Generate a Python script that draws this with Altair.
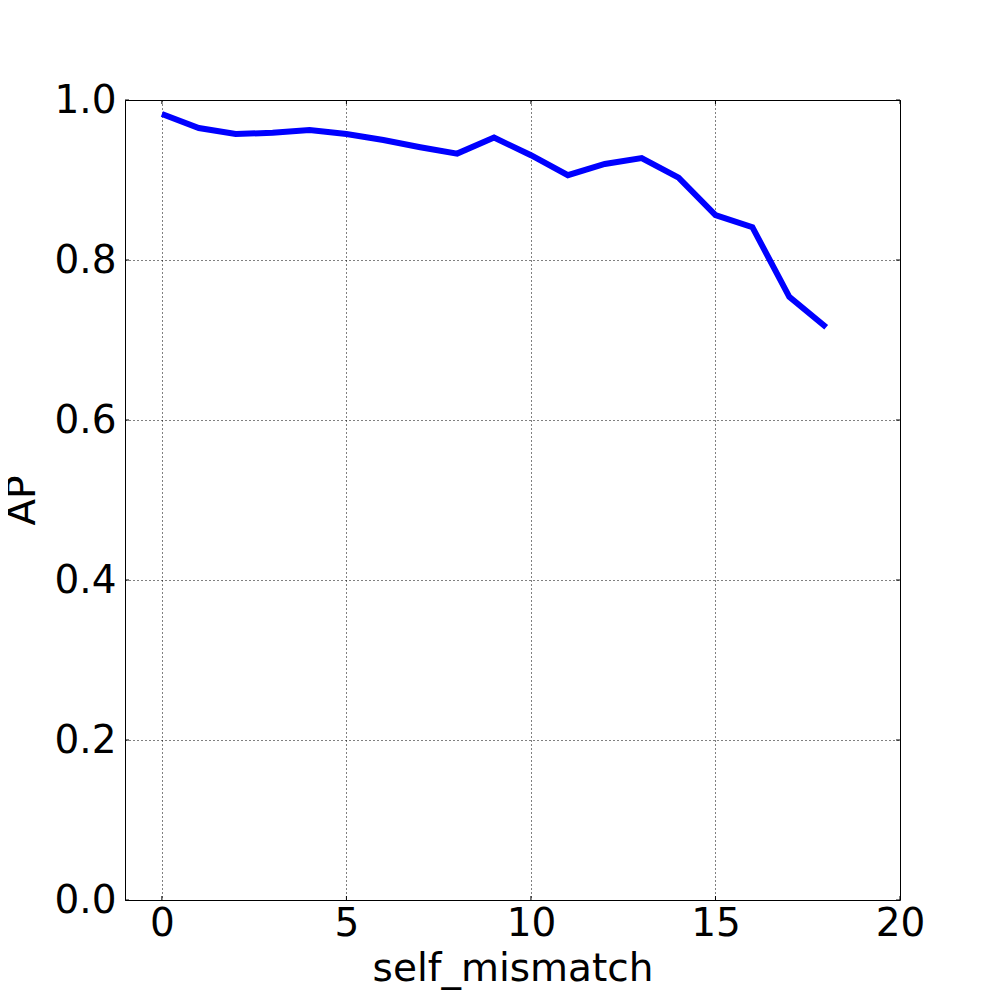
import altair as alt
import pandas as pd

mismatch = list(range(19))
ap = [0.9825, 0.965, 0.9575, 0.959, 0.9625, 0.9575, 0.95, 0.941, 0.933, 0.953,
      0.931, 0.906, 0.92, 0.9275, 0.903, 0.856, 0.841, 0.754, 0.716]
x_ticks = [0, 5, 10, 15, 20]
y_ticks = [0.0, 0.2, 0.4, 0.6, 0.8, 1.0]

df = pd.DataFrame({"self_mismatch": mismatch, "AP": ap})
xt = pd.DataFrame({"t": x_ticks})
yt = pd.DataFrame({"t": y_ticks})

FONT = "DejaVu Sans"
W, H = 775, 800
TL = 4

xscale = alt.Scale(domain=[-1, 20], nice=False, zero=False)
yscale = alt.Scale(domain=[0, 1], nice=False)

line = alt.Chart(df).mark_line(color="#0000ff", strokeWidth=6, strokeCap="butt", strokeJoin="miter").encode(
    x=alt.X("self_mismatch:Q", scale=xscale,
            axis=alt.Axis(values=x_ticks, title="self_mismatch",
                          format="d", labelPadding=4, titlePadding=6)),
    y=alt.Y("AP:Q", scale=yscale,
            axis=alt.Axis(values=y_ticks, title="AP",
                          format=".1f", labelPadding=9, titlePadding=11)),
)

xt_bottom = alt.Chart(xt).mark_rule(color="black", strokeWidth=1).encode(
    x=alt.X("t:Q", scale=xscale), y=alt.value(H), y2=alt.value(H - TL))
xt_top = alt.Chart(xt).mark_rule(color="black", strokeWidth=1).encode(
    x=alt.X("t:Q", scale=xscale), y=alt.value(0), y2=alt.value(TL))
yt_left = alt.Chart(yt).mark_rule(color="black", strokeWidth=1).encode(
    y=alt.Y("t:Q", scale=yscale), x=alt.value(0), x2=alt.value(TL))
yt_right = alt.Chart(yt).mark_rule(color="black", strokeWidth=1).encode(
    y=alt.Y("t:Q", scale=yscale), x=alt.value(W), x2=alt.value(W - TL))

chart = alt.layer(line, xt_bottom, xt_top, yt_left, yt_right).properties(
    width=W, height=H,
    autosize=alt.AutoSizeParams(type="none"),
    padding={"left": 117, "top": 92, "right": 92, "bottom": 92},
).configure_view(
    stroke="black", strokeWidth=1
).configure_axis(
    labelFont=FONT, titleFont=FONT,
    labelFontSize=39, titleFontSize=39,
    labelColor="black", titleColor="black",
    titleFontWeight="normal",
    ticks=False, domain=False,
    grid=True, gridColor="black", gridDash=[1, 3], gridWidth=1, gridOpacity=1,
    labelFlush=False,
)

chart.save("out.html", embed_options={"renderer": "svg", "actions": False})
